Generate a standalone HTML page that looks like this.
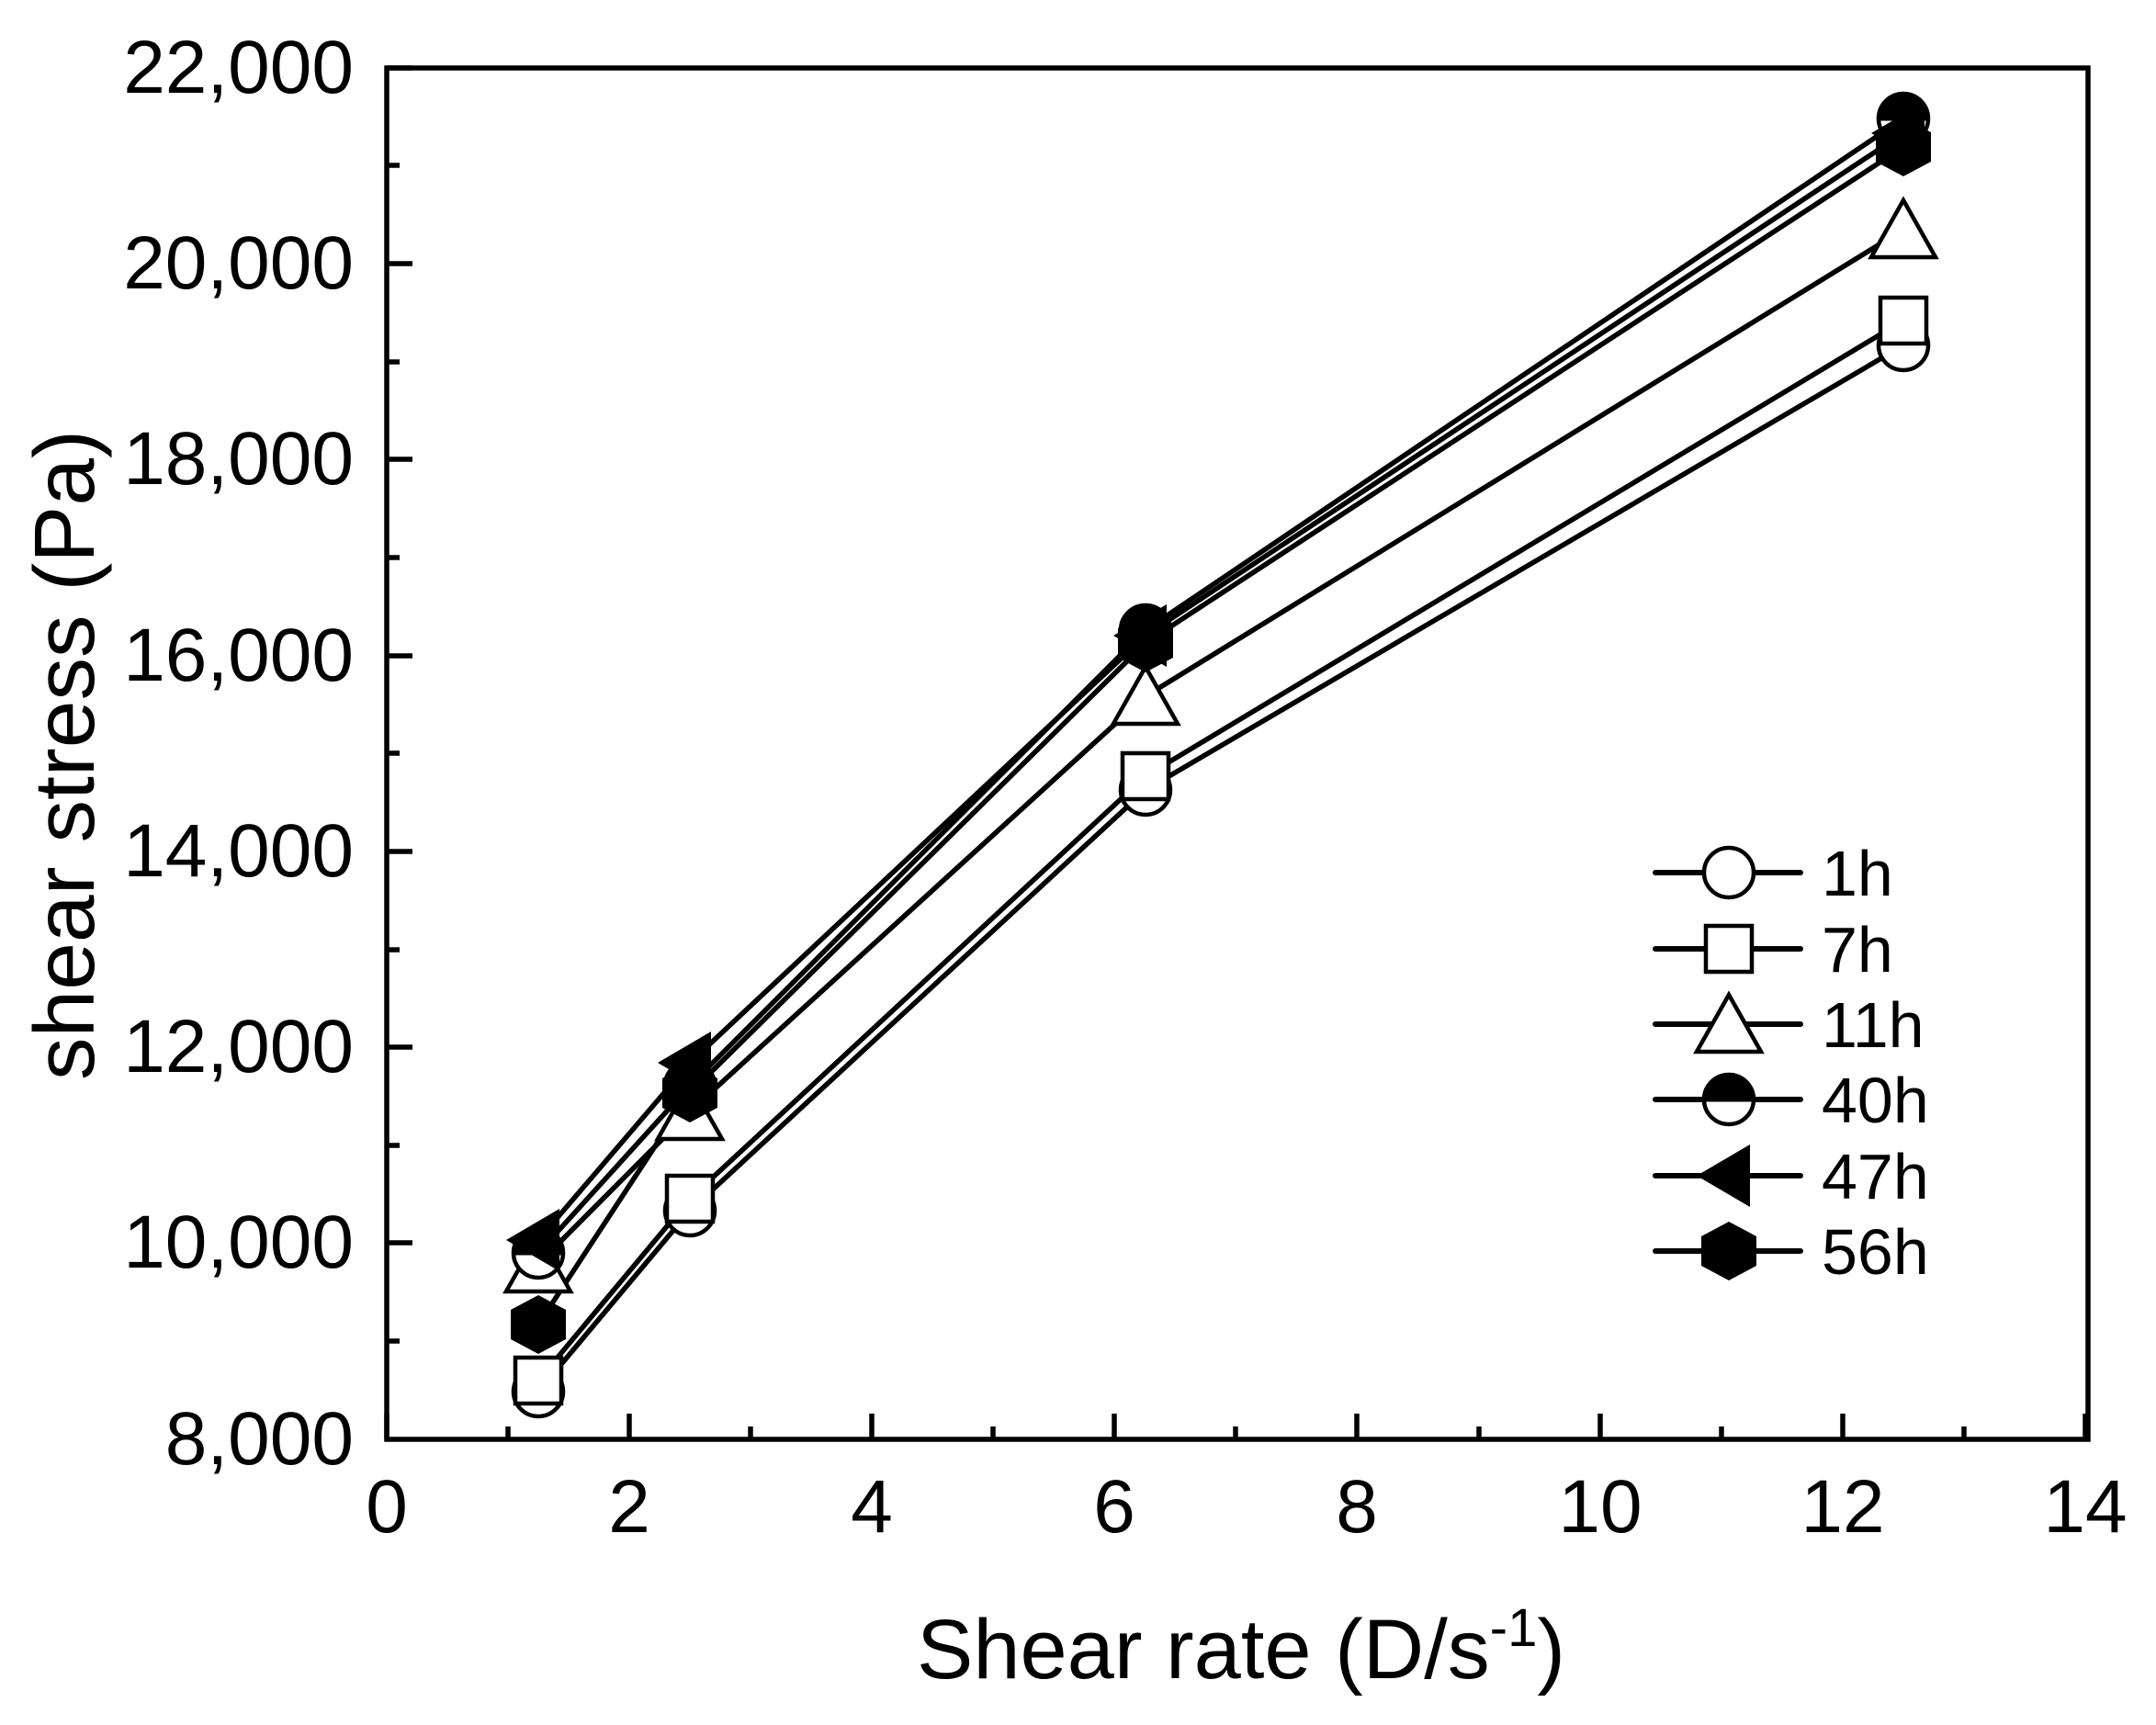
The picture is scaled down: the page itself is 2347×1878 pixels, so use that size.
<!DOCTYPE html>
<html><head><meta charset="utf-8"><style>html,body{margin:0;padding:0;background:#fff}svg{display:block}</style></head>
<body>
<svg xmlns="http://www.w3.org/2000/svg" width="2347" height="1878" viewBox="0 0 2347 1878" font-family="Liberation Sans, Arial, sans-serif">
<defs>
<g id="mc"><circle r="27" fill="#fff" stroke="#000" stroke-width="4.5"/></g>
<g id="ms"><rect x="-25" y="-25" width="50" height="50" fill="#fff" stroke="#000" stroke-width="4.5"/></g>
<g id="mt"><polygon points="0,-32 35,30 -35,30" fill="#fff" stroke="#000" stroke-width="4.5"/></g>
<g id="mh"><circle r="27" fill="#fff" stroke="#000" stroke-width="4.5"/><path d="M-29,0 A29,29 0 0 1 29,0 Z" fill="#000"/><line x1="-29" y1="0" x2="29" y2="0" stroke="#000" stroke-width="5"/></g>
<g id="ml"><polygon points="-35,0 23,-34 23,34" fill="#000"/></g>
<g id="mx"><polygon points="0,-32 30,-16 30,16 0,32 -30,16 -30,-16" fill="#000"/></g>
</defs>
<g stroke="#000" stroke-width="5.5" fill="none">
<rect x="421" y="74" width="1852" height="1493"/>
<path d="M421,1567v-28 M685,1567v-28 M949,1567v-28 M1213,1567v-28 M1477,1567v-28 M1742,1567v-28 M2006,1567v-28 M2270,1567v-28
M553,1567v-14 M817,1567v-14 M1081,1567v-14 M1345,1567v-14 M1610,1567v-14 M1874,1567v-14 M2138,1567v-14"/>
<path d="M421,74h28 M421,287h28 M421,500h28 M421,714h28 M421,927h28 M421,1140h28 M421,1353h28
M421,180h14 M421,394h14 M421,607h14 M421,820h14 M421,1034h14 M421,1247h14 M421,1460h14"/>
</g>
<g font-size="82" fill="#000" text-anchor="end">
<text x="385" y="101">22,000</text><text x="385" y="314">20,000</text><text x="385" y="527">18,000</text><text x="385" y="741">16,000</text><text x="385" y="954">14,000</text><text x="385" y="1167">12,000</text><text x="385" y="1380">10,000</text><text x="385" y="1594">8,000</text>
</g>
<g font-size="82" fill="#000" text-anchor="middle">
<text x="421" y="1668">0</text><text x="685" y="1668">2</text><text x="949" y="1668">4</text><text x="1213" y="1668">6</text><text x="1477" y="1668">8</text><text x="1742" y="1668">10</text><text x="2006" y="1668">12</text><text x="2270" y="1668">14</text>
</g>
<text x="1351" y="1827" font-size="92" text-anchor="middle">Shear rate (D/s<tspan font-size="58" dy="-35">-1</tspan><tspan dy="35">)</tspan></text>
<text transform="translate(102,822) rotate(-90)" font-size="93" text-anchor="middle">shear stress (Pa)</text>
<g stroke="#000" stroke-width="5.5" fill="none" stroke-linejoin="round">
<polyline points="586,1515 751,1318 1247,860 2072,376"/>
<polyline points="586,1503 751,1305 1247,845 2072,349"/>
<polyline points="586,1376 751,1210 1247,758 2072,250"/>
<polyline points="586,1364 751,1182 1247,686 2072,129"/>
<polyline points="586,1350 751,1157 1247,692 2072,145"/>
<polyline points="586,1442 751,1190 1247,700 2072,160"/>
</g>
<use href="#mc" x="586" y="1515"/><use href="#mc" x="751" y="1318"/><use href="#mc" x="1247" y="860"/><use href="#mc" x="2072" y="376"/>
<use href="#ms" x="586" y="1503"/><use href="#ms" x="751" y="1305"/><use href="#ms" x="1247" y="845"/><use href="#ms" x="2072" y="349"/>
<use href="#mt" x="586" y="1376"/><use href="#mt" x="751" y="1210"/><use href="#mt" x="1247" y="758"/><use href="#mt" x="2072" y="250"/>
<use href="#mh" x="586" y="1364"/><use href="#mh" x="751" y="1182"/><use href="#mh" x="1247" y="686"/><use href="#mh" x="2072" y="129"/>
<use href="#ml" x="586" y="1350"/><use href="#ml" x="751" y="1157"/><use href="#ml" x="1247" y="692"/><use href="#ml" x="2072" y="145"/>
<use href="#mx" x="586" y="1442"/><use href="#mx" x="751" y="1190"/><use href="#mx" x="1247" y="700"/><use href="#mx" x="2072" y="160"/>
<g stroke="#000" stroke-width="6" stroke-linecap="round">
<path d="M1802,950h158 M1802,1033h158 M1802,1115h158 M1802,1197h158 M1802,1280h158 M1802,1362h158"/>
</g>
<use href="#mc" x="1882" y="950"/><use href="#ms" x="1882" y="1033"/><use href="#mt" x="1882" y="1115"/><use href="#mh" x="1882" y="1197"/><use href="#ml" x="1882" y="1280"/><use href="#mx" x="1882" y="1362"/>
<g font-size="70" fill="#000">
<text x="1983" y="975">1h</text><text x="1983" y="1058">7h</text><text x="1983" y="1140">11h</text><text x="1983" y="1222">40h</text><text x="1983" y="1305">47h</text><text x="1983" y="1387">56h</text>
</g>
</svg>
</body></html>
